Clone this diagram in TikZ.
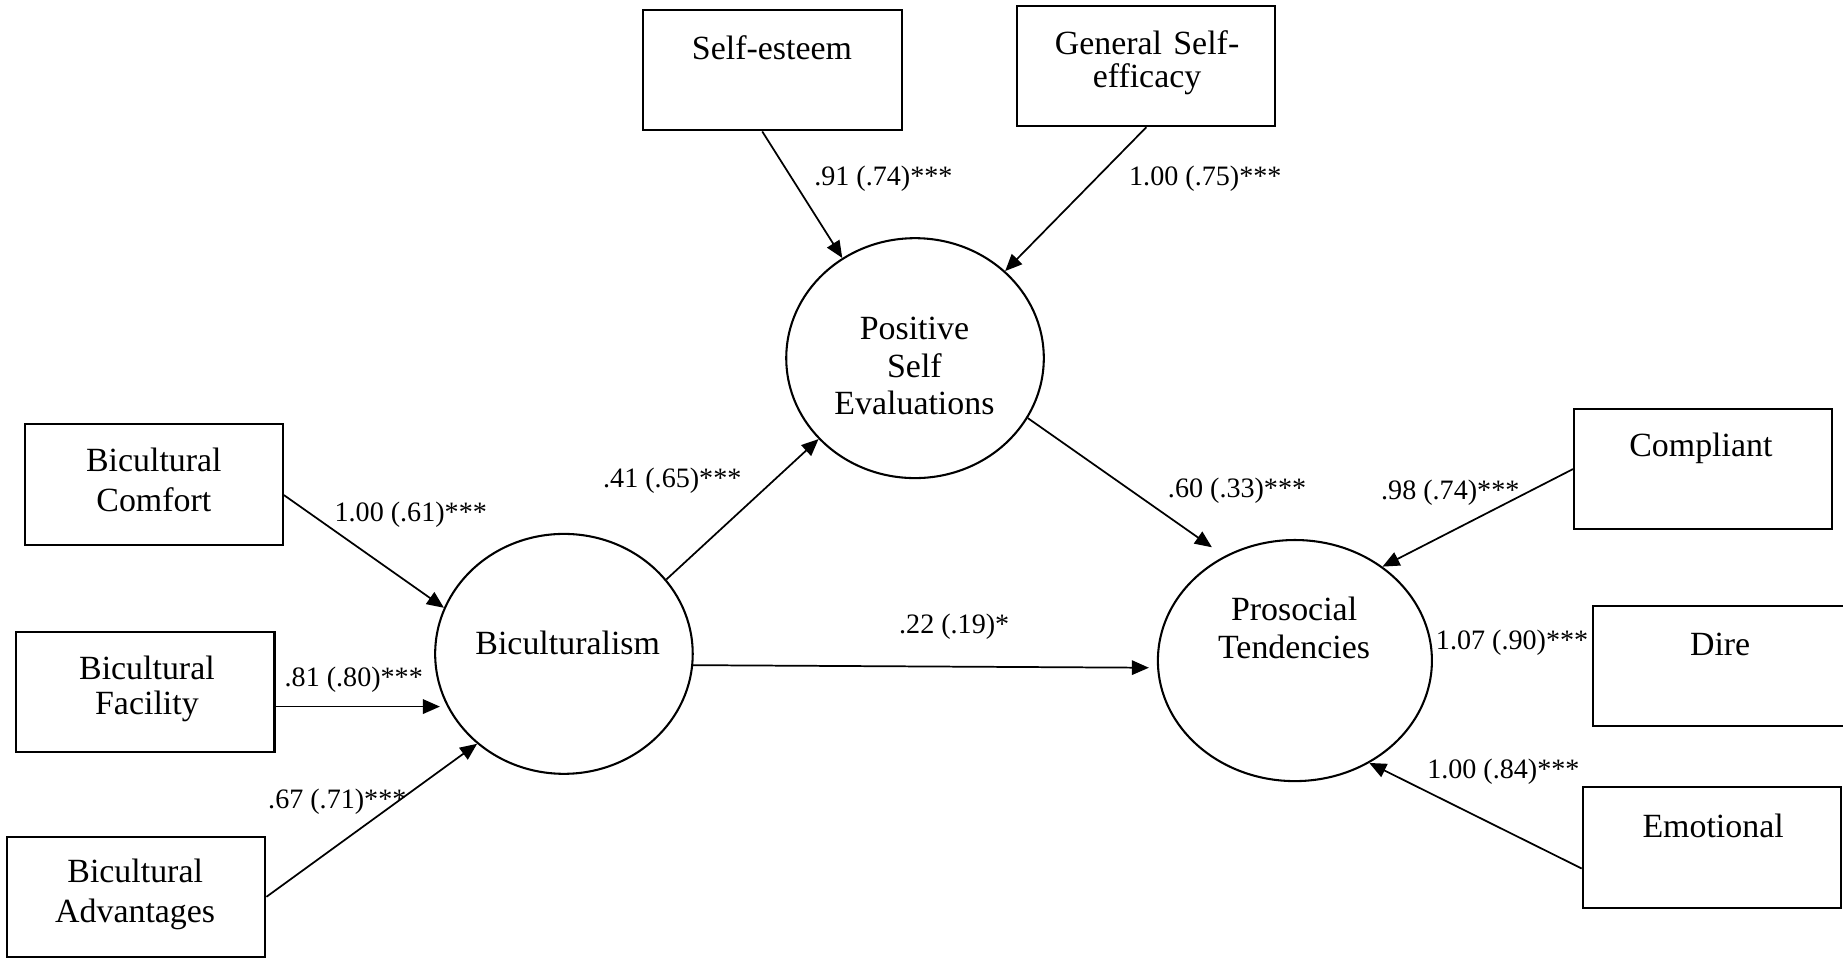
\documentclass[tikz,border=0pt]{standalone}
\usepackage{fontspec}
\setmainfont{Liberation Serif}
\usetikzlibrary{arrows.meta,shapes.geometric,calc}
\begin{document}
\begin{tikzpicture}[x=0.01cm,y=-0.01cm,
  box/.style={draw,line width=0.5pt,rectangle,inner sep=0pt,minimum width=2.195cm,minimum height=1.025cm},
  latent/.style={draw,line width=0.5pt,ellipse,inner sep=0pt,minimum width=2.19cm,minimum height=2.04cm},
  txt/.style={align=center,text width=2cm,inner sep=0pt,anchor=base},
  coef/.style={font=\fontsize{6.8}{8}\selectfont,inner sep=0pt,anchor=base west},
  link/.style={line width=0.42pt,-{Triangle[length=4.1pt,width=3.5pt]}}
]
\useasboundingbox (0,0) rectangle (1568,815);
\clip (0,0) rectangle (1568,815);

% observed indicators
\node[box] (se)   at (657.2,59.65) {};
\node[box] (gse)  at (975.3,56.05) {};
\node[box] (bc)   at (130.85,412.4) {};
\node[box] (bf)   at (123.75,588.65) {};
\node[box] (ba)   at (116,763) {};
\node[box] (comp) at (1448.95,399.1) {};
\node[box] (dire) at (1465.4,566.6) {};
\node[box] (emo)  at (1456.35,721.2) {};

% latent variables
\node[latent] (pse) at (778.5,304.7) {};
\node[latent] (bic) at (479.8,556.3) {};
\node[latent,minimum width=2.33cm,minimum height=2.05cm] (ps) at (1101.7,562) {};

% texts
\node[txt,font=\fontsize{8.2}{9.1}\selectfont] (tse)   at (656.8,50.5) {Self-esteem};
\node[txt,font=\fontsize{8.2}{7.9}\selectfont] (tgse)  at (975.9,46.3) {General Self-\\efficacy};
\node[txt,font=\fontsize{8.2}{9.7}\selectfont] (tbc)   at (130.9,401) {Bicultural\\Comfort};
\node[txt,font=\fontsize{8.2}{8.45}\selectfont] (tbf)  at (125,578) {Bicultural\\Facility};
\node[txt,font=\fontsize{8.2}{9.7}\selectfont] (tba)   at (115,751) {Bicultural\\Advantages};
\node[txt,font=\fontsize{8.2}{9.1}\selectfont] (tcomp) at (1447.1,388.8) {Compliant};
\node[txt,font=\fontsize{8.2}{9.1}\selectfont] (tdire) at (1463.5,557.5) {Dire};
\node[txt,font=\fontsize{8.2}{9.1}\selectfont] (temo)  at (1457.5,712.4) {Emotional};
\node[txt,font=\fontsize{8.2}{9.1}\selectfont] (tpse)  at (778,289) {Positive\\Self\\Evaluations};
\node[txt,font=\fontsize{8.2}{9.1}\selectfont] (tbic)  at (483,557) {Biculturalism};
\node[txt,font=\fontsize{8.2}{9.1}\selectfont] (tps)   at (1101,528) {Prosocial\\Tendencies};

% connectors
\draw[link] ($(se.south)+(-8.7,0)$) -- (pse.126.9);
\draw[link] (gse.south) -- (pse.44.4);
\draw[link] (bic.36.8) -- (pse.220.8);
\draw[link,shorten >=3.7pt] (pse.-28.5) -- (ps.124.8);
\draw[link,shorten >=2pt] (bic.-5.1) -- (ps.183);
\draw[link] ($(bc.east)+(0,8.8)$) -- (bic.159.1);
\coordinate (bfs) at ($(bf.east)+(0,12.5)$);
\draw[link,shorten >=-1.4pt] (bfs) -- (bfs -| bic.west);
\draw[link] (ba.east) -- (bic.226.1);
\draw[link] (comp.west) -- (ps.47.9);
\draw[link] ($(emo.west)+(0,17.7)$) -- (ps.-54.4);

% coefficients
\node[coef] (c1)  at (692.1,157.6) {.91 (.74)***};
\node[coef] (c2)  at (960,157.6) {1.00 (.75)***};
\node[coef] (c3)  at (512.5,415) {.41 (.65)***};
\node[coef] (c4)  at (993,423.5) {.60 (.33)***};
\node[coef] (c5)  at (764.3,539.3) {.22 (.19)*};
\node[coef] (c6)  at (284,444) {1.00 (.61)***};
\node[coef] (c7)  at (241.5,584) {.81 (.80)***};
\node[coef] (c8)  at (227.5,688) {.67 (.71)***};
\node[coef] (c9)  at (1174.4,425.1) {.98 (.74)***};
\node[coef] (c10) at (1221,552.4) {1.07 (.90)***};
\node[coef] (c11) at (1213.6,662.5) {1.00 (.84)***};
\end{tikzpicture}
\end{document}
